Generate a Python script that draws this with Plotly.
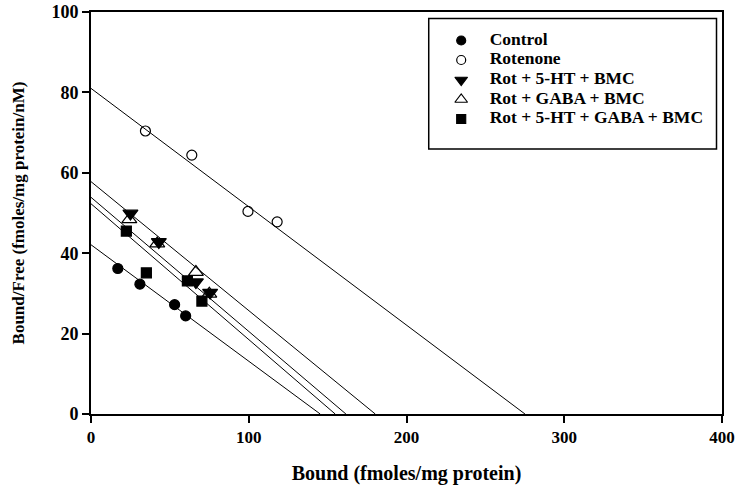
import plotly.graph_objects as go

# ---- data ----
series_names = ["Control", "Rotenone", "Rot + 5-HT + BMC", "Rot + GABA + BMC", "Rot + 5-HT + GABA + BMC"]

control_x = [17, 31, 53, 60]
control_y = [36.2, 32.3, 27.2, 24.4]

rotenone_x = [34.5, 63.9, 99.5, 118]
rotenone_y = [70.4, 64.4, 50.4, 47.8]

ht_bmc_x = [25, 43, 66.5, 75.5]
ht_bmc_y = [49.9, 42.8, 32.8, 30.2]

gaba_bmc_x = [24.3, 42, 66.5, 75]
gaba_bmc_y = [48.4, 42.4, 35.3, 29.9]

all_x = [22.4, 35.1, 61.1, 70.3]
all_y = [45.5, 35.1, 33.1, 28.1]

# regression lines: y-intercept (Bound/Free at Bound=0) and x-intercept (Bmax)
line_y0 = [42.1, 81.0, 57.8, 53.9, 52.3]
line_x0 = [145.3, 275.1, 180.2, 161.6, 154.8]

x_ticks = [0, 100, 200, 300, 400]
y_ticks = [0, 20, 40, 60, 80, 100]

FONT = "Liberation Serif"

fig = go.Figure()

xs = [control_x, rotenone_x, ht_bmc_x, gaba_bmc_x, all_x]
ys = [control_y, rotenone_y, ht_bmc_y, gaba_bmc_y, all_y]
symbols = ["circle", "circle-open", "triangle-down", "triangle-up-open", "square"]
sizes = [10, 10, 13, 13, 10]
leg_sizes = [9, 9, 11, 11, 9]

for i in range(5):
    fig.add_trace(go.Scatter(
        x=[0, line_x0[i]], y=[line_y0[i], 0], mode="lines",
        line=dict(color="black", width=1), showlegend=False, hoverinfo="skip"))

for i in range(5):
    fig.add_trace(go.Scatter(
        x=xs[i], y=ys[i], mode="markers", name=series_names[i], showlegend=False,
        marker=dict(symbol=symbols[i], size=sizes[i], color="black",
                    line=dict(color="black", width=1.2))))

L, R, T, B = 90.5, 13, 12, 73
W, H = 735, 487
pw, ph = W - L - R, H - T - B

def px_x(p):
    return (p - L) / pw

def px_y(p):
    return (H - B - p) / ph

# legend box (drawn in an inset axis measured in pixels from the box corner)
box_l, box_r, box_t, box_b = 428.5, 716.5, 18.5, 149
fig.add_shape(type="rect", xref="paper", yref="paper",
              x0=px_x(box_l), x1=px_x(box_r), y0=px_y(box_b), y1=px_y(box_t),
              line=dict(color="black", width=1.5), fillcolor="rgba(0,0,0,0)")

row_offsets = [22, 41.5, 61.5, 81, 100.5]
for i in range(5):
    fig.add_trace(go.Scatter(
        x=[32.5], y=[row_offsets[i]], mode="markers", xaxis="x2", yaxis="y2",
        showlegend=False, hoverinfo="skip",
        marker=dict(symbol=symbols[i], size=leg_sizes[i], color="black",
                    line=dict(color="black", width=1.2))))
    fig.add_trace(go.Scatter(
        x=[61], y=[row_offsets[i]], mode="text", xaxis="x2", yaxis="y2",
        text=[series_names[i]], textposition="middle right", showlegend=False,
        hoverinfo="skip",
        textfont=dict(family=FONT, size=17.5, color="black", weight="bold")))

axis_common = dict(showline=True, linecolor="black", linewidth=2, mirror=True,
                   ticks="outside", ticklen=7, tickwidth=1.5, tickcolor="black",
                   showgrid=False, zeroline=False)

fig.update_xaxes(range=[0, 400], tickvals=x_ticks, ticktext=[str(v) for v in x_ticks],
                 tickfont=dict(family=FONT, size=17, color="black", weight="bold"),
                 title=dict(text="<b>Bound (fmoles/mg protein)</b>", standoff=20,
                            font=dict(family=FONT, size=20, color="black")),
                 **axis_common)
fig.update_yaxes(range=[0, 100], tickvals=y_ticks, ticktext=[str(v) for v in y_ticks],
                 tickfont=dict(family=FONT, size=18, color="black", weight="bold"),
                 title=dict(text="<b>Bound/Free (fmoles/mg protein/nM)</b>", standoff=22,
                            font=dict(family=FONT, size=17, color="black")),
                 **axis_common)

fig.update_layout(
    width=W, height=H,
    margin=dict(l=L, r=R, t=T, b=B, autoexpand=False),
    plot_bgcolor="white", paper_bgcolor="white",
    showlegend=False,
    xaxis2=dict(domain=[px_x(box_l), px_x(box_r)], range=[0, box_r - box_l],
                anchor="y2", visible=False, fixedrange=True),
    yaxis2=dict(domain=[px_y(box_b), px_y(box_t)], range=[box_b - box_t, 0],
                anchor="x2", visible=False, fixedrange=True),
)

fig.write_html("out.html")
